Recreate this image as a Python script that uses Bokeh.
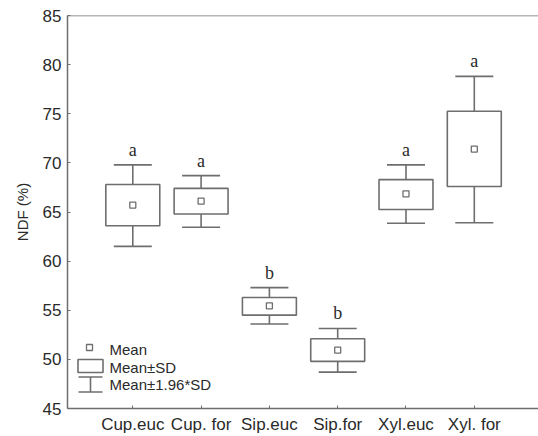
from bokeh.plotting import figure
from bokeh.models import (ColumnDataSource, Whisker, TeeHead, LinearAxis, FixedTicker,
                          Range1d, BoxAnnotation, Label, Span, Title)
from bokeh.core.properties import value
from bokeh.embed import file_html
from bokeh.resources import INLINE

# ---- data ----
categories = ["Cup.euc", "Cup. for", "Sip.euc", "Sip.for", "Xyl.euc", "Xyl. for"]
means = [65.7, 66.1, 55.45, 50.95, 66.85, 71.4]
sd_low = [63.6, 64.8, 54.5, 49.8, 65.25, 67.6]
sd_high = [67.8, 67.4, 56.3, 52.1, 68.3, 75.25]
ci_low = [61.5, 63.45, 53.6, 48.7, 63.85, 63.9]
ci_high = [69.8, 68.7, 57.3, 53.15, 69.8, 78.8]
letters = ["a", "a", "b", "b", "a", "a"]
y_ticks = [45, 50, 55, 60, 65, 70, 75, 80, 85]

positions = list(range(1, len(categories) + 1))

GRAY = "#6e6e6e"
TEXT = "#2a2a2a"
SANS = "Liberation Sans"
SERIF = "Liberation Serif"

src = ColumnDataSource(dict(x=positions, mean=means, sd_lo=sd_low, sd_hi=sd_high,
                            ci_lo=ci_low, ci_hi=ci_high, letter=letters))

p = figure(width=538, height=436, output_backend="svg", toolbar_location=None,
           x_range=Range1d(0.044, 6.94), y_range=Range1d(45, 85),
           x_axis_location=None, y_axis_location=None,
           min_border_left=67, min_border_right=0, min_border_top=15, min_border_bottom=27)
p.outline_line_color = None
p.xgrid.visible = False
p.ygrid.visible = False
p.background_fill_color = "white"
p.border_fill_color = "white"

# left axis
yax = LinearAxis(ticker=FixedTicker(ticks=y_ticks))
yax.axis_line_color = GRAY
yax.axis_line_width = 1.5
yax.major_tick_line_color = GRAY
yax.major_tick_in = 3
yax.major_tick_out = 0
yax.minor_tick_line_color = None
yax.major_label_standoff = 6
yax.major_label_text_font = SANS
yax.major_label_text_font_size = "17px"
yax.major_label_text_color = TEXT
p.add_layout(yax, "left")

# y axis title (vertical, in the left panel)
p.add_layout(Title(text="NDF (%)", align="center", text_font=SANS, text_font_size="15px",
                   text_font_style="normal", text_color=TEXT, standoff=17, offset=12), "left")

# bottom axis
xax = LinearAxis(ticker=FixedTicker(ticks=positions),
                 major_label_overrides={pos: c for pos, c in zip(positions, categories)})
xax.axis_line_color = GRAY
xax.axis_line_width = 1.5
xax.major_tick_line_color = GRAY
xax.major_tick_in = 3
xax.major_tick_out = 0
xax.minor_tick_line_color = None
xax.major_label_standoff = 6
xax.major_label_text_font = SANS
xax.major_label_text_font_size = "17px"
xax.major_label_text_color = TEXT
p.add_layout(xax, "below")

# top frame line
p.add_layout(Span(location=85, dimension="width", line_color=GRAY, line_width=1.5))

# whiskers (Mean ± 1.96*SD)
wh = Whisker(source=src, base="x", lower="ci_lo", upper="ci_hi", dimension="height",
             line_color=GRAY, line_width=1.6, level="underlay",
             upper_head=TeeHead(size=38, line_color=GRAY, line_width=1.6),
             lower_head=TeeHead(size=38, line_color=GRAY, line_width=1.6))
p.add_layout(wh)

# boxes (Mean ± SD)
p.vbar(x="x", width=0.79, bottom="sd_lo", top="sd_hi", source=src,
       fill_color="white", line_color=GRAY, line_width=1.6)

# mean markers
p.scatter(x="x", y="mean", source=src, marker="square", size=6,
          fill_color="white", line_color=GRAY, line_width=1.3)

# significance letters
p.text(x="x", y="ci_hi", text="letter", source=src, y_offset=-5,
       text_align="center", text_baseline="bottom",
       text_font=value(SERIF), text_font_size="18px", text_color=TEXT)

# ---- legend (screen units relative to frame) ----
p.add_layout(BoxAnnotation(left=19, right=25, bottom=58, top=64,
                           left_units="screen", right_units="screen",
                           top_units="screen", bottom_units="screen",
                           fill_color="white", fill_alpha=1, line_color=GRAY, line_width=1.3,
                           line_alpha=1, level="overlay"))
p.add_layout(BoxAnnotation(left=10.5, right=35.5, bottom=36, top=49,
                           left_units="screen", right_units="screen",
                           top_units="screen", bottom_units="screen",
                           fill_color="white", fill_alpha=1, line_color=GRAY, line_width=1.6,
                           line_alpha=1, level="overlay"))
leg_src = ColumnDataSource(dict(b=[23], lo=[16.5], hi=[31.5]))
p.add_layout(Whisker(source=leg_src, base="b", lower="lo", upper="hi", dimension="height",
                     base_units="screen", lower_units="screen", upper_units="screen",
                     line_color=GRAY, line_width=1.6,
                     upper_head=TeeHead(size=24, line_color=GRAY, line_width=1.6),
                     lower_head=TeeHead(size=24, line_color=GRAY, line_width=1.6)))
for txt, yb in [("Mean", 59), ("Mean±SD", 41.5), ("Mean±1.96*SD", 24)]:
    p.add_layout(Label(x=42, y=yb, x_units="screen", y_units="screen", text=txt,
                       text_font=SANS, text_font_size="15px", text_color=TEXT,
                       text_baseline="alphabetic", text_align="left"))

open("out.html", "w").write(file_html(p, INLINE))
